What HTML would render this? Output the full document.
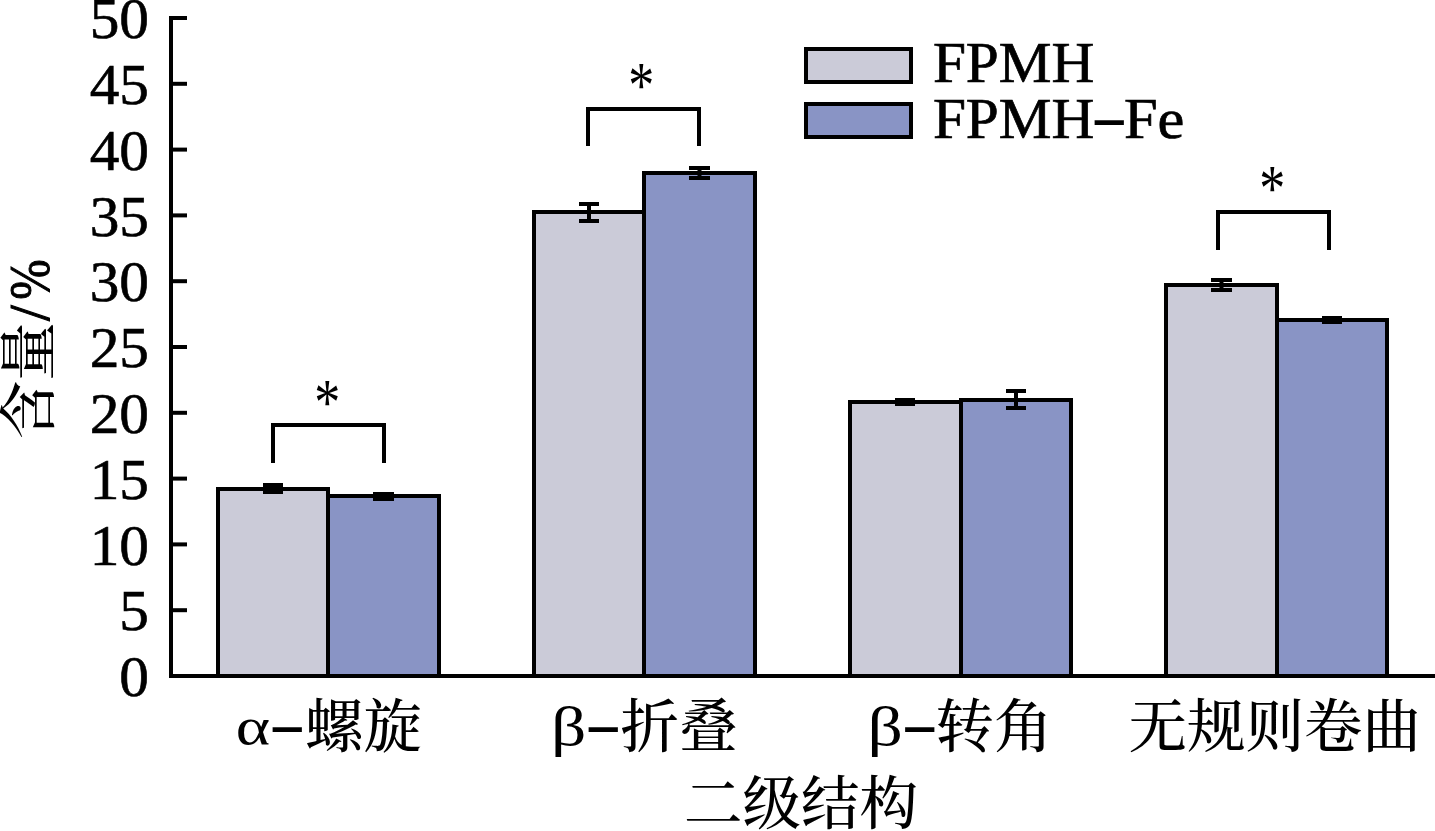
<!DOCTYPE html>
<html lang="zh"><head><meta charset="utf-8"><title>二级结构</title>
<style>
html,body{margin:0;padding:0;background:#fff;}
body{width:1435px;height:831px;overflow:hidden;}
svg{display:block;}
text{fill:#000;font-family:"Liberation Serif","Noto Serif CJK SC",serif;}
.num{font-size:56px;stroke:#000;stroke-width:0.6px;}
.lat{font-size:57px;}
.cjk{font-size:58.5px;font-weight:500;}
.hv{stroke:#000;stroke-width:1px;}
.lg{stroke:#000;stroke-width:0.7px;}
.ln{stroke:#000;stroke-width:4;fill:none;stroke-linecap:butt;stroke-linejoin:miter;}
</style></head><body>
<svg width="1435" height="831" viewBox="0 0 1435 831">
<rect x="0" y="0" width="1435" height="831" fill="#ffffff"/>
<rect x="218" y="489" width="110" height="187" fill="#cbcbd8" stroke="#000" stroke-width="4"/>
<rect x="328" y="496" width="111" height="180" fill="#8994c5" stroke="#000" stroke-width="4"/>
<rect x="534" y="212" width="110" height="464" fill="#cbcbd8" stroke="#000" stroke-width="4"/>
<rect x="644" y="173" width="111" height="503" fill="#8994c5" stroke="#000" stroke-width="4"/>
<rect x="850" y="402" width="111" height="274" fill="#cbcbd8" stroke="#000" stroke-width="4"/>
<rect x="961" y="400" width="110" height="276" fill="#8994c5" stroke="#000" stroke-width="4"/>
<rect x="1166" y="285" width="111" height="391" fill="#cbcbd8" stroke="#000" stroke-width="4"/>
<rect x="1277" y="320" width="110" height="356" fill="#8994c5" stroke="#000" stroke-width="4"/>
<path class="ln" d="M263 485H283M263 492H283M273 485V492"/>
<path class="ln" d="M373.0 494H394.0M373.0 499H394.0M383.5 494V499"/>
<path class="ln" d="M579 204H599M579 221H599M589 204V221"/>
<path class="ln" d="M689.0 168H710.0M689.0 178H710.0M699.5 168V178"/>
<path class="ln" d="M895 400H915M895 404H915M905 400V404"/>
<path class="ln" d="M1006 391H1026M1006 408H1026M1016 391V408"/>
<path class="ln" d="M1211.0 280H1232.0M1211.0 290H1232.0M1221.5 280V290"/>
<path class="ln" d="M1322 318H1342M1322 322H1342M1332 318V322"/>
<path class="ln" d="M273 463V425H384V463"/>
<path class="ln" d="M588 146V109H699V146"/>
<path class="ln" d="M1218 250V212H1329V250"/>
<path class="ln" d="M171 16V678"/>
<path class="ln" d="M169 676H1435"/>
<path class="ln" d="M171 610.2H187"/>
<path class="ln" d="M171 544.4H187"/>
<path class="ln" d="M171 478.6H187"/>
<path class="ln" d="M171 412.8H187"/>
<path class="ln" d="M171 347.0H187"/>
<path class="ln" d="M171 281.2H187"/>
<path class="ln" d="M171 215.4H187"/>
<path class="ln" d="M171 149.6H187"/>
<path class="ln" d="M171 83.8H187"/>
<path class="ln" d="M171 18.0H187"/>
<text class="num" transform="translate(149 696.2) scale(1.06 1)" text-anchor="end">0</text>
<text class="num" transform="translate(149 630.4) scale(1.06 1)" text-anchor="end">5</text>
<text class="num" transform="translate(149 564.6) scale(1.06 1)" text-anchor="end">10</text>
<text class="num" transform="translate(149 498.8) scale(1.06 1)" text-anchor="end">15</text>
<text class="num" transform="translate(149 433) scale(1.06 1)" text-anchor="end">20</text>
<text class="num" transform="translate(149 367.2) scale(1.06 1)" text-anchor="end">25</text>
<text class="num" transform="translate(149 301.4) scale(1.06 1)" text-anchor="end">30</text>
<text class="num" transform="translate(149 235.6) scale(1.06 1)" text-anchor="end">35</text>
<text class="num" transform="translate(149 169.8) scale(1.06 1)" text-anchor="end">40</text>
<text class="num" transform="translate(149 104) scale(1.06 1)" text-anchor="end">45</text>
<text class="num" transform="translate(149 38.2) scale(1.06 1)" text-anchor="end">50</text>
<rect x="806" y="49" width="105" height="33" fill="#cbcbd8" stroke="#000" stroke-width="4"/>
<rect x="806" y="104" width="105" height="33" fill="#8994c5" stroke="#000" stroke-width="4"/>
<text class="lat lg" transform="translate(932.9 82) scale(1.04 1)">FPMH</text>
<text class="lat lg" transform="translate(932.9 138) scale(1.04 1)">FPMH</text>
<text class="lat" transform="translate(1095 145.4) scale(1 1.67)">–</text>
<text class="lat lg" transform="translate(1123.9 138) scale(1.06 1)">Fe</text>
<text class="lat" transform="translate(314.262 424.433) scale(0.913 1.143)">*</text>
<text class="lat" transform="translate(628.261 107.433) scale(0.913 1.143)">*</text>
<text class="lat" transform="translate(1259.26 210.433) scale(0.913 1.143)">*</text>
<text class="lat" transform="translate(235.7 744) scale(1.15 0.93)">α</text>
<text class="lat" transform="translate(273 752) scale(1 1.67)">–</text>
<text class="cjk" transform="translate(305 746.5)">螺旋</text>
<text class="lat" transform="translate(551.1 745.2) scale(1.22 0.98)">β</text>
<text class="lat" transform="translate(589 752) scale(1 1.67)">–</text>
<text class="cjk" transform="translate(620.5 746.5)">折叠</text>
<text class="lat" transform="translate(867.5 745.2) scale(1.22 0.98)">β</text>
<text class="lat" transform="translate(905.6 752) scale(1 1.67)">–</text>
<text class="cjk" transform="translate(935.5 746.5)">转角</text>
<text class="cjk" transform="translate(1128.5 746.5)">无规则卷曲</text>
<text class="cjk" transform="translate(684 824)">二级结构</text>
<text class="cjk" transform="translate(48.7 439.2) rotate(-90)">含量</text>
<text class="lat hv" transform="translate(49 321) rotate(-90)">/</text>
<text class="lat hv" transform="translate(49 299.7) rotate(-90) scale(0.85 1)">%</text>
</svg>
</body></html>
